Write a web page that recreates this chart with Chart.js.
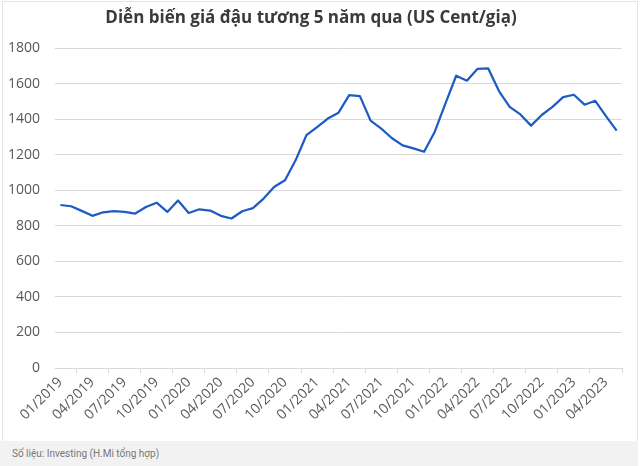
<!DOCTYPE html>
<html>
<head>
<meta charset="utf-8">
<script src="https://cdn.jsdelivr.net/npm/chart.js@4.4.0/dist/chart.umd.min.js"></script>
<style>
  html, body { margin: 0; padding: 0; background: #fff; }
  #wrap { position: relative; width: 640px; height: 466px; overflow: hidden; }
  #box {
    position: absolute; left: 2px; top: 1px; width: 636px; height: 440px;
    box-sizing: border-box; border: 1px solid #e4e4e4; border-bottom: none;
  }
  #chart { position: absolute; left: 0; top: 0; }
  #source {
    position: absolute; left: 0; top: 441px; width: 638px; height: 25px;
    background: #f2f2f2; color: #777;
    font: 10px Roboto, "Liberation Sans", sans-serif;
    line-height: 25px; padding-left: 12px; box-sizing: border-box;
  }
  .preload { position: absolute; left: -999px; font-family: "Open Sans"; }
</style>
</head>
<body>
<div id="wrap">
  <div id="box"></div>
  <canvas id="chart" width="640" height="441"></canvas>
  <div id="source">Số liệu: Investing (H.Mi tổng hợp)</div>
  <span class="preload">1800 <b>Diễn</b></span>
</div>
<script>
  const TITLE = "Diễn biến giá đậu tương 5 năm qua (US Cent/giạ)";

  const MONTHS = [
    "01/2019", "02/2019", "03/2019", "04/2019", "05/2019", "06/2019",
    "07/2019", "08/2019", "09/2019", "10/2019", "11/2019", "12/2019",
    "01/2020", "02/2020", "03/2020", "04/2020", "05/2020", "06/2020",
    "07/2020", "08/2020", "09/2020", "10/2020", "11/2020", "12/2020",
    "01/2021", "02/2021", "03/2021", "04/2021", "05/2021", "06/2021",
    "07/2021", "08/2021", "09/2021", "10/2021", "11/2021", "12/2021",
    "01/2022", "02/2022", "03/2022", "04/2022", "05/2022", "06/2022",
    "07/2022", "08/2022", "09/2022", "10/2022", "11/2022", "12/2022",
    "01/2023", "02/2023", "03/2023", "04/2023", "05/2023",
  ];

  const PRICES = [
    918, 911, 885, 857, 877, 883, 879, 870, 907, 931,
    879, 943, 873, 894, 887, 857, 842, 883, 900, 954,
    1021, 1057, 1171, 1311, 1357, 1405, 1438, 1537, 1531, 1393,
    1348, 1294, 1254, 1237, 1218, 1331, 1490, 1646, 1618, 1685,
    1687, 1560, 1471, 1428, 1365, 1425, 1471, 1526, 1539, 1483,
    1505, 1419, 1337,
  ];

  const Y_MIN = 0;
  const Y_MAX = 1800;
  const Y_STEP = 200;
  const LABEL_EVERY = 3;

  const FONT = "Open Sans";
  const LINE_COLOR = "#1f5bc4";
  const GRID_COLOR = "#d9d9d9";
  const TEXT_COLOR = "#595959";

  function draw() {
    new Chart(document.getElementById("chart"), {
      type: "line",
      data: {
        labels: MONTHS,
        datasets: [
          {
            data: PRICES,
            borderColor: LINE_COLOR,
            borderWidth: 2.25,
            pointRadius: 0,
            tension: 0,
            fill: false,
            borderJoinStyle: "round",
          },
        ],
      },
      options: {
        responsive: false,
        animation: false,
        events: [],
        layout: { padding: { left: 0, right: 18, top: 0, bottom: 0 } },
        plugins: {
          legend: { display: false },
          tooltip: { enabled: false },
          title: {
            display: true,
            text: TITLE,
            color: "#3a3a3a",
            font: { family: FONT, size: 17, weight: "bold" },
            padding: { top: 8, bottom: 20 },
          },
        },
        scales: {
          x: {
            offset: true,
            afterFit(scale) { scale.height = 73; },
            grid: {
              offset: true,
              drawOnChartArea: false,
              drawTicks: true,
              tickLength: 5,
              color: GRID_COLOR,
            },
            border: { color: GRID_COLOR },
            ticks: {
              autoSkip: false,
              maxRotation: 45,
              minRotation: 45,
              padding: 1,
              color: TEXT_COLOR,
              font: { family: FONT, size: 14 },
              callback(value, index) {
                return index % LABEL_EVERY === 0 ? MONTHS[index] : null;
              },
            },
          },
          y: {
            min: Y_MIN,
            max: Y_MAX,
            afterFit(scale) { scale.width = 55; },
            grid: { color: GRID_COLOR, drawTicks: false },
            border: { display: false },
            ticks: {
              stepSize: Y_STEP,
              padding: 15,
              color: TEXT_COLOR,
              font: { family: FONT, size: 14 },
              callback: (value) => String(value),
            },
          },
        },
      },
    });
  }

  Promise.all([
    document.fonts.load("bold 17px 'Open Sans'", TITLE),
    document.fonts.load("14px 'Open Sans'", "0123456789/"),
  ]).then(draw, draw);
</script>
</body>
</html>
